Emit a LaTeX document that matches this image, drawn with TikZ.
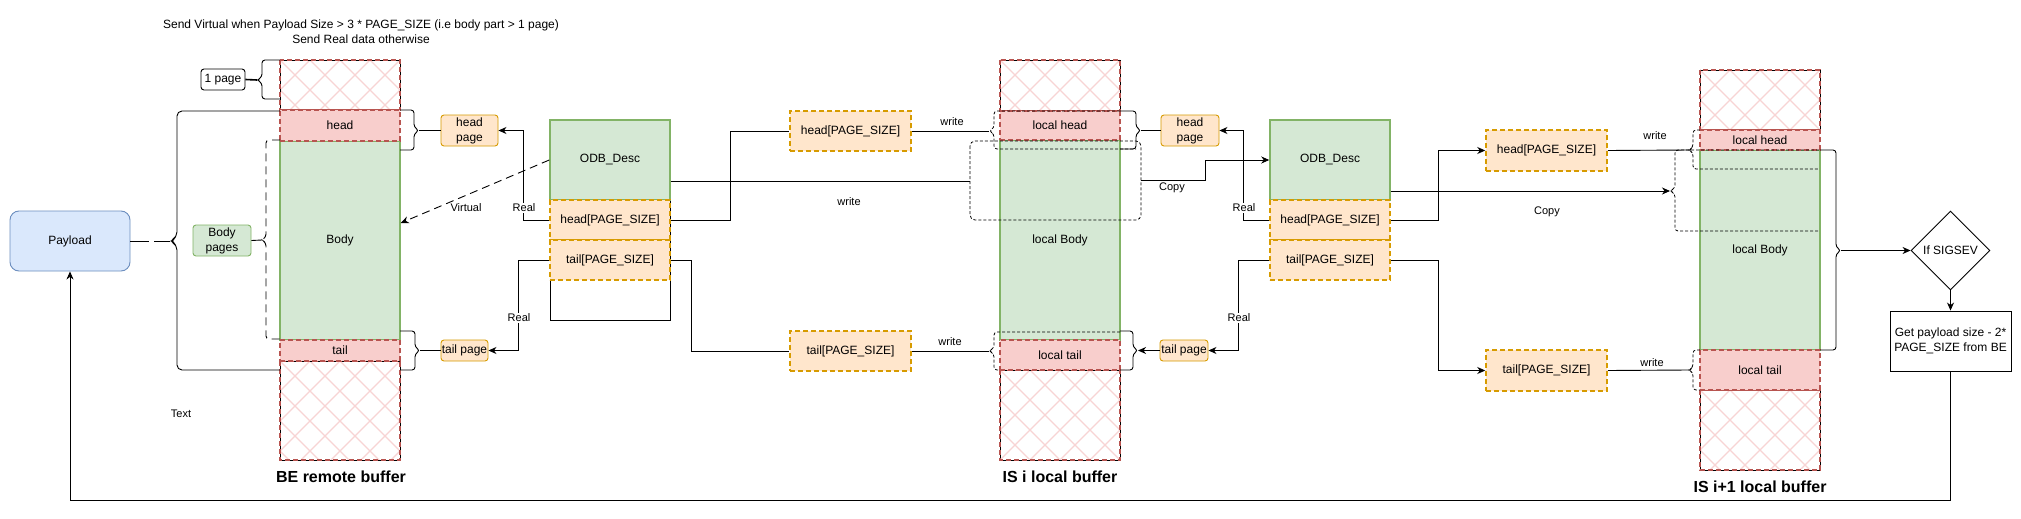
\documentclass[tikz,border=0pt]{standalone}
\usepackage{fontspec}
\setmainfont{Liberation Sans}
\usetikzlibrary{arrows.meta,shapes.geometric}
\definecolor{redF}{HTML}{F8CECC}
\definecolor{redS}{HTML}{B85450}
\definecolor{greenF}{HTML}{D5E8D4}
\definecolor{greenS}{HTML}{82B366}
\definecolor{orF}{HTML}{FFE6CC}
\definecolor{orS}{HTML}{D79B00}
\definecolor{blueF}{HTML}{DAE8FC}
\definecolor{blueS}{HTML}{6C8EBF}
\definecolor{hatchC}{HTML}{F8D4D4}
\newcommand{\hatchregion}[4]{%
  \begin{scope}
    \clip (#1,#2) rectangle (#3,#4);
    \foreach \k in {-8,...,8}{%
      \draw[hatchline] ({#1+\k*30},#2) -- ++(150,150);
      \draw[hatchline] ({#1+\k*30},#2) -- ++(-150,150);
    }
  \end{scope}
  \draw[black, line width=0.9pt] (#1,#2) rectangle (#3,#4);
  \draw[reddash] (#1,#2) rectangle (#3,#4);
}
\begin{document}
\begin{tikzpicture}[x=1pt,y=-1pt,
  every node/.style={font=\fontsize{12}{15}\selectfont, inner sep=0pt, text=black},
  conn/.style={draw=black, line width=0.9pt},
  arr/.style={conn, -{Stealth[length=8pt,width=7pt,inset=2.5pt]}},
  lbl/.style={font=\fontsize{11}{13}\selectfont, fill=white, inner sep=1pt},
  nolbl/.style={font=\fontsize{11}{13}\selectfont},
  pgbox/.style={draw=orS, fill=orF, line width=1.5pt, dash pattern=on 5pt off 3pt, minimum width=121pt, minimum height=40pt},
  orbox/.style={draw=orS, fill=orF, line width=0.9pt, rounded corners=3pt, align=center},
  grbox/.style={draw=greenS, fill=greenF, line width=1.5pt},
  redsec/.style={draw=redS, fill=redF, line width=1.5pt, dash pattern=on 5pt off 3pt},
  reddash/.style={draw=redS, line width=1.5pt, dash pattern=on 5pt off 3pt},
  hatchline/.style={draw=hatchC, line width=1.2pt},
  cbrace/.style={draw=black, line width=0.9pt, rounded corners=3pt},
  dbrace/.style={cbrace, line width=0.8pt, dash pattern=on 3pt off 2pt},
  colname/.style={font=\bfseries\fontsize{16}{18}\selectfont}
]
\useasboundingbox (0,0) rectangle (2021,519);
\fill[white] (0,0) rectangle (2021,519);

% ---------- title ----------
\node[align=center] (title) at (361,31.7) {Send Virtual when Payload Size > 3 * PAGE\_SIZE (i.e body part > 1 page)\\Send Real data otherwise};

% ---------- BE remote buffer ----------
\hatchregion{280}{60}{400}{110}
\hatchregion{280}{361}{400}{460}
\node[grbox, minimum width=120pt, minimum height=199pt] (bebody) at (340,240.5) {Body};
\node[redsec, minimum width=120pt, minimum height=31pt] (behead) at (340,125.5) {head};
\node[redsec, minimum width=120pt, minimum height=21pt] (betail) at (340,350.5) {tail};
\node[colname] (bename) at (341,477) {BE remote buffer};

% ---------- IS i local buffer ----------
\hatchregion{1000}{60}{1120}{111}
\hatchregion{1000}{370}{1120}{460}
\node[grbox, minimum width=120pt, minimum height=200pt] (isbody) at (1060,240) {local Body};
\node[redsec, minimum width=120pt, minimum height=29pt] (ishead) at (1060,125.5) {local head};
\node[redsec, minimum width=120pt, minimum height=30pt] (istail) at (1060,355) {local tail};
\node[colname] (isname) at (1060,477) {IS i local buffer};

% ---------- IS i+1 local buffer ----------
\hatchregion{1700}{70}{1820}{130}
\hatchregion{1700}{390}{1820}{470}
\node[grbox, minimum width=120pt, minimum height=200pt] (i1body) at (1760,250) {local Body};
\node[redsec, minimum width=120pt, minimum height=20pt] (i1head) at (1760,140) {local head};
\node[redsec, minimum width=120pt, minimum height=40pt] (i1tail) at (1760,370) {local tail};
\node[colname] (i1name) at (1760,487) {IS i+1 local buffer};

% ---------- other nodes ----------
\node[draw=blueS, fill=blueF, line width=0.9pt, rounded corners=9pt, minimum width=120pt, minimum height=60pt] (payload) at (70,241) {Payload};
\node[draw, fill=white, line width=0.9pt, rounded corners=3pt, minimum width=44pt, minimum height=21pt] (onepage) at (223,79.5) {1 page};
\node[draw=greenS, fill=greenF, line width=0.9pt, rounded corners=3pt, minimum width=58pt, minimum height=31pt, align=center] (bodypages) at (222,240.5) {Body\\pages};
\node[orbox, minimum width=57pt, minimum height=31pt] (headpage1) at (469.5,130.5) {head\\page};
\node[orbox, minimum width=47pt, minimum height=21pt] (tailpage1) at (464.5,350.5) {tail page};

\node[draw, line width=0.9pt, minimum width=120pt, minimum height=200pt] (odbframe1) at (610,220) {};
\node[grbox, minimum width=120pt, minimum height=80pt] (odb1) at (610,160) {ODB\_Desc};
\node[pgbox, minimum width=120pt] (oh1) at (610,220) {head[PAGE\_SIZE]};
\node[pgbox, minimum width=120pt] (ot1) at (610,260) {tail[PAGE\_SIZE]};

\node[pgbox] (hm) at (850.5,131) {head[PAGE\_SIZE]};
\node[pgbox] (tm) at (850.5,351) {tail[PAGE\_SIZE]};

\node[orbox, minimum width=58pt, minimum height=31pt] (headpage2) at (1190,130.5) {head\\page};
\node[orbox, minimum width=48pt, minimum height=21pt] (tailpage2) at (1184,350.5) {tail page};

\node[grbox, minimum width=120pt, minimum height=80pt] (odb2) at (1330,160) {ODB\_Desc};
\node[pgbox, minimum width=120pt] (oh2) at (1330,220) {head[PAGE\_SIZE]};
\node[pgbox, minimum width=120pt] (ot2) at (1330,260) {tail[PAGE\_SIZE]};

\node[pgbox, minimum height=41pt] (h3) at (1546.5,150.5) {head[PAGE\_SIZE]};
\node[pgbox, minimum height=41pt] (t3) at (1546.5,370.5) {tail[PAGE\_SIZE]};

\node[diamond, draw, line width=0.9pt, minimum width=79pt, minimum height=79pt] (sig) at (1950.5,250.5) {If SIGSEV};
\node[draw, line width=0.9pt, minimum width=121pt, minimum height=60pt, align=center] (getb) at (1950.5,341) {Get payload size - 2*\\PAGE\_SIZE from BE};

\node[nolbl] (txt) at (181,414) {Text};

% ---------- braces ----------
\coordinate (opTip) at (257,80);
\draw[cbrace] (280,60) -- (262,60) -- (262,77) -- (opTip) -- (262,83) -- (262,99) -- (280,99);
\coordinate (plTip) at (170,241);
\coordinate (plGap) at (149,241);
\draw[cbrace, rounded corners=5pt] (280,111) -- (177,111) -- (177,237) -- (plTip) -- (177,245) -- (177,370) -- (280,370);
\coordinate (bpTip) at (262,240);
\draw[cbrace, dash pattern=on 8pt off 5pt] (280,140) -- (266,140) -- (266,237) -- (bpTip) -- (266,243) -- (266,339) -- (280,339);
\coordinate (bhTip) at (419,130.5);
\draw[cbrace] (400,110) -- (414,110) -- (414,127) -- (bhTip) -- (414,134) -- (414,150) -- (400,150);
\coordinate (btTip) at (420,350.5);
\draw[cbrace] (400,331) -- (415,331) -- (415,347) -- (btTip) -- (415,354) -- (415,370) -- (400,370);

\coordinate (ihTip) at (989,131);
\draw[dbrace] (1120,111) -- (994,111) -- (994,128) -- (ihTip) -- (994,134) -- (994,149) -- (1136,149);
\draw[dbrace, rounded corners=5pt] (970,141) rectangle (1141,220);
\coordinate (isiL) at (970,181);
\coordinate (isiR) at (1141,180);
\coordinate (itTip) at (989,351);
\draw[dbrace] (1120,332) -- (994,332) -- (994,348) -- (itTip) -- (994,354) -- (994,370) -- (1000,370);
\coordinate (ihsTip) at (1141,130.5);
\draw[cbrace] (1120,111) -- (1136,111) -- (1136,127) -- (ihsTip) -- (1136,134) -- (1136,149) -- (1120,149);
\coordinate (itsTip) at (1138,350.5);
\draw[cbrace] (1120,331) -- (1133,331) -- (1133,347) -- (itsTip) -- (1133,354) -- (1133,370) -- (1120,370);

\coordinate (i1hTip) at (1689,150);
\draw[dbrace] (1700,130) -- (1693,130) -- (1693,147) -- (i1hTip) -- (1693,153) -- (1693,169) -- (1819,169);
\coordinate (i1cTip) at (1670,191);
\draw[dbrace] (1819,150) -- (1675,150) -- (1675,188) -- (i1cTip) -- (1675,194) -- (1675,231) -- (1819,231);
\coordinate (i1tTip) at (1689,370);
\draw[dbrace] (1700,350) -- (1693,350) -- (1693,367) -- (i1tTip) -- (1693,373) -- (1693,390) -- (1700,390);
\coordinate (i1bTip) at (1841,250.5);
\draw[cbrace] (1820,150) -- (1836,150) -- (1836,247) -- (i1bTip) -- (1836,254) -- (1836,350) -- (1820,350);

% ---------- connectors ----------
\draw[conn] (payload.east) -- (plGap);
\draw[conn] ([xshift=5pt]plGap) -- (plTip);
\draw[conn, line width=1.6pt] (onepage.east) -- (opTip);
\draw[conn] (bodypages.east) -- (bpTip);
\draw[conn] (bhTip) -- (headpage1.west);
\draw[conn] (btTip) -- (tailpage1.west);

\draw[arr] (oh1.west) -- ++(-26,0) |- (headpage1.east);
\draw[arr] (ot1.west) -- ++(-31,0) |- (tailpage1.east);
\draw[arr, dash pattern=on 8pt off 5pt] (odb1.west) -- ([yshift=17.5pt]bebody.east);
\draw[conn] ([yshift=-21pt]odb1.east) -- (isiL);
\draw[conn] (oh1.east) -- ++(60,0) |- (hm.west);
\draw[conn] (ot1.east) -- ++(21,0) |- (tm.west);
\draw[conn] (hm.east) -- (ihTip);
\draw[conn] (tm.east) -- (itTip);

\draw[conn] (ihsTip) -- (headpage2.west);
\draw[arr] (tailpage2.west) -- (itsTip);
\draw[arr] (isiR) -- (1205,180) |- (odb2.west);
\draw[arr] (oh2.west) -- ++(-26,0) |- (headpage2.east);
\draw[arr] (ot2.west) -- ++(-31,0) |- (tailpage2.east);

\draw[arr] ([yshift=-31pt]odb2.east) -- (i1cTip);
\draw[arr] (oh2.east) -- ++(48,0) |- (h3.west);
\draw[arr] (ot2.east) -- ++(48,0) |- (t3.west);
\draw[conn] (h3.east) -- (i1hTip);
\draw[conn] (t3.east) -- (i1tTip);

\draw[arr] (i1bTip) -- (sig.west);
\draw[arr] (sig.south) -- (getb.north);
\draw[arr] (getb.south) -- (1950.5,500) -| (payload.south);

% ---------- labels ----------
\node[lbl] at (524,208) {Real};
\node[lbl] at (519,318) {Real};
\node[lbl] at (466,208) {Virtual};
\node[nolbl] at (849,202) {write};
\node[nolbl] at (952,122) {write};
\node[nolbl] at (950,342) {write};
\node[nolbl] at (1172,188) {Copy};
\node[lbl] at (1244,208) {Real};
\node[lbl] at (1239,318) {Real};
\node[nolbl] at (1547,212) {Copy};
\node[nolbl] at (1655,136) {write};
\node[nolbl] at (1652,363) {write};
\end{tikzpicture}
\end{document}
